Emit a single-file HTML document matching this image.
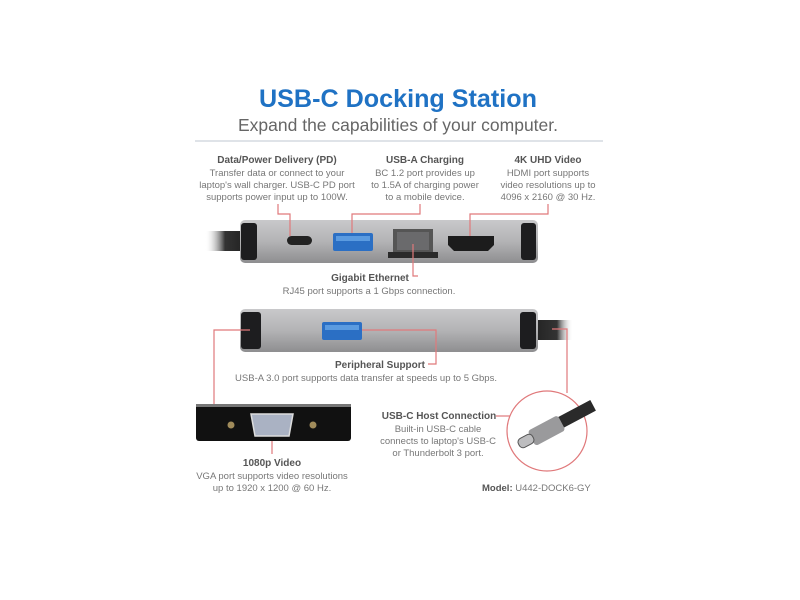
<!DOCTYPE html>
<html><head><meta charset="utf-8"><style>
html,body{margin:0;padding:0;background:#fff;}
svg{display:block;}
text{font-family:"Liberation Sans",sans-serif;}
.h{font-weight:bold;font-size:10px;fill:#555;}
.d{font-size:9.5px;fill:#777;}
</style></head><body>
<svg width="800" height="600" viewBox="0 0 800 600">
<defs>
<linearGradient id="body" x1="0" y1="0" x2="0" y2="1">
<stop offset="0" stop-color="#c9c9cb"/><stop offset="0.5" stop-color="#b3b3b5"/><stop offset="1" stop-color="#8e8e90"/>
</linearGradient>
<linearGradient id="cab" x1="0" y1="0" x2="1" y2="0">
<stop offset="0" stop-color="#fff" stop-opacity="0"/><stop offset="0.5" stop-color="#333"/><stop offset="1" stop-color="#222"/>
</linearGradient>
<linearGradient id="cab2" x1="0" y1="0" x2="1" y2="0">
<stop offset="0" stop-color="#222"/><stop offset="0.6" stop-color="#333"/><stop offset="1" stop-color="#fff" stop-opacity="0"/>
</linearGradient>
</defs>
<text x="398" y="107" text-anchor="middle" font-size="25" font-weight="bold" fill="#1f72c4" textLength="278" lengthAdjust="spacingAndGlyphs">USB-C Docking Station</text>
<text x="398" y="131" text-anchor="middle" font-size="17.5" fill="#666" textLength="320" lengthAdjust="spacingAndGlyphs">Expand the capabilities of your computer.</text>
<rect x="195" y="140" width="408" height="2" fill="#dfe3e8"/>

<g text-anchor="middle">
<text class="h" x="277" y="163">Data/Power Delivery (PD)</text>
<text class="d" x="277" y="176">Transfer data or connect to your</text>
<text class="d" x="277" y="188">laptop's wall charger. USB-C PD port</text>
<text class="d" x="277" y="200">supports power input up to 100W.</text>
<text class="h" x="425" y="163">USB-A Charging</text>
<text class="d" x="425" y="176">BC 1.2 port provides up</text>
<text class="d" x="425" y="188">to 1.5A of charging power</text>
<text class="d" x="425" y="200">to a mobile device.</text>
<text class="h" x="548" y="163">4K UHD Video</text>
<text class="d" x="548" y="176">HDMI port supports</text>
<text class="d" x="548" y="188">video resolutions up to</text>
<text class="d" x="548" y="200">4096 x 2160 @ 30 Hz.</text>
</g>

<rect x="205" y="231" width="40" height="20" fill="url(#cab)"/>
<rect x="240" y="220" width="298" height="43" rx="5" fill="url(#body)"/>
<rect x="241" y="223" width="16" height="37" rx="3" fill="#1d1d1f"/>
<rect x="521" y="223" width="15" height="37" rx="3" fill="#1d1d1f"/>
<rect x="287" y="236" width="25" height="9" rx="4.5" fill="#222"/>
<rect x="333" y="233" width="40" height="18" rx="2" fill="#2b6fc4"/>
<rect x="336" y="236" width="34" height="5" fill="#5b9be0"/>
<rect x="393" y="229" width="40" height="25" fill="#555"/>
<rect x="397" y="232" width="32" height="18" fill="#6a6a6c"/>
<rect x="388" y="252" width="50" height="6" fill="#2a2a2a"/>
<path d="M448 236 H494 V245 L488 251 H454 L448 245 Z" fill="#1c1c1c"/>
<g stroke="#e0797b" stroke-width="1.2" fill="none">
<path d="M278 204 V214 H290 V236"/>
<path d="M420 204 V214 H352 V233"/>
<path d="M548 204 V214 H470 V236"/>
<path d="M413 244 V276 H418"/>
</g>
<text class="h" x="370" y="281" text-anchor="middle">Gigabit Ethernet</text>
<text class="d" x="369" y="294" text-anchor="middle">RJ45 port supports a 1 Gbps connection.</text>

<rect x="533" y="320" width="40" height="20" fill="url(#cab2)"/>
<rect x="240" y="309" width="298" height="43" rx="5" fill="url(#body)"/>
<rect x="241" y="312" width="20" height="37" rx="3" fill="#1d1d1f"/>
<rect x="520" y="312" width="16" height="37" rx="3" fill="#1d1d1f"/>
<rect x="322" y="322" width="40" height="18" rx="2" fill="#2b6fc4"/>
<rect x="325" y="325" width="34" height="5" fill="#5b9be0"/>
<g stroke="#e0797b" stroke-width="1.2" fill="none">
<path d="M362 330 H436 V364 H428"/>
<path d="M250 330 H214 V405"/>
<path d="M272 425 V454"/>
<path d="M552 329 H567 V393"/>
<path d="M496 416 H510"/>
<circle cx="547" cy="431" r="40"/>
</g>
<text class="h" x="380" y="368" text-anchor="middle">Peripheral Support</text>
<text class="d" x="366" y="381" text-anchor="middle">USB-A 3.0 port supports data transfer at speeds up to 5 Gbps.</text>

<rect x="196" y="404" width="155" height="37" rx="3" fill="#111"/>
<rect x="196" y="404" width="155" height="3" fill="#777"/>
<circle cx="231" cy="425" r="3.5" fill="#a08b5a"/>
<circle cx="313" cy="425" r="3.5" fill="#a08b5a"/>
<path d="M251 414 H293 L289 436 H255 Z" fill="#aab2c3" stroke="#ddd" stroke-width="1.5"/>
<text class="h" x="272" y="466" text-anchor="middle">1080p Video</text>
<text class="d" x="272" y="479" text-anchor="middle">VGA port supports video resolutions</text>
<text class="d" x="272" y="491" text-anchor="middle">up to 1920 x 1200 @ 60 Hz.</text>

<text class="h" x="439" y="419" text-anchor="middle">USB-C Host Connection</text>
<text class="d" x="438" y="432" text-anchor="middle">Built-in USB-C cable</text>
<text class="d" x="438" y="444" text-anchor="middle">connects to laptop's USB-C</text>
<text class="d" x="438" y="456" text-anchor="middle">or Thunderbolt 3 port.</text>
<g transform="rotate(-28 545 432)">
<path d="M560 425 L600 425 L600 437 L560 437 Z" fill="#2a2a2a"/>
<rect x="530" y="423" width="34" height="17" rx="3" fill="#9a9a9c"/>
<rect x="516" y="426" width="16" height="10" rx="4" fill="#bdbdbf" stroke="#555" stroke-width="1"/>
</g>
<text x="482" y="491" font-size="9.5" fill="#777"><tspan font-weight="bold" fill="#555">Model:</tspan> U442-DOCK6-GY</text>
</svg>
</body></html>
